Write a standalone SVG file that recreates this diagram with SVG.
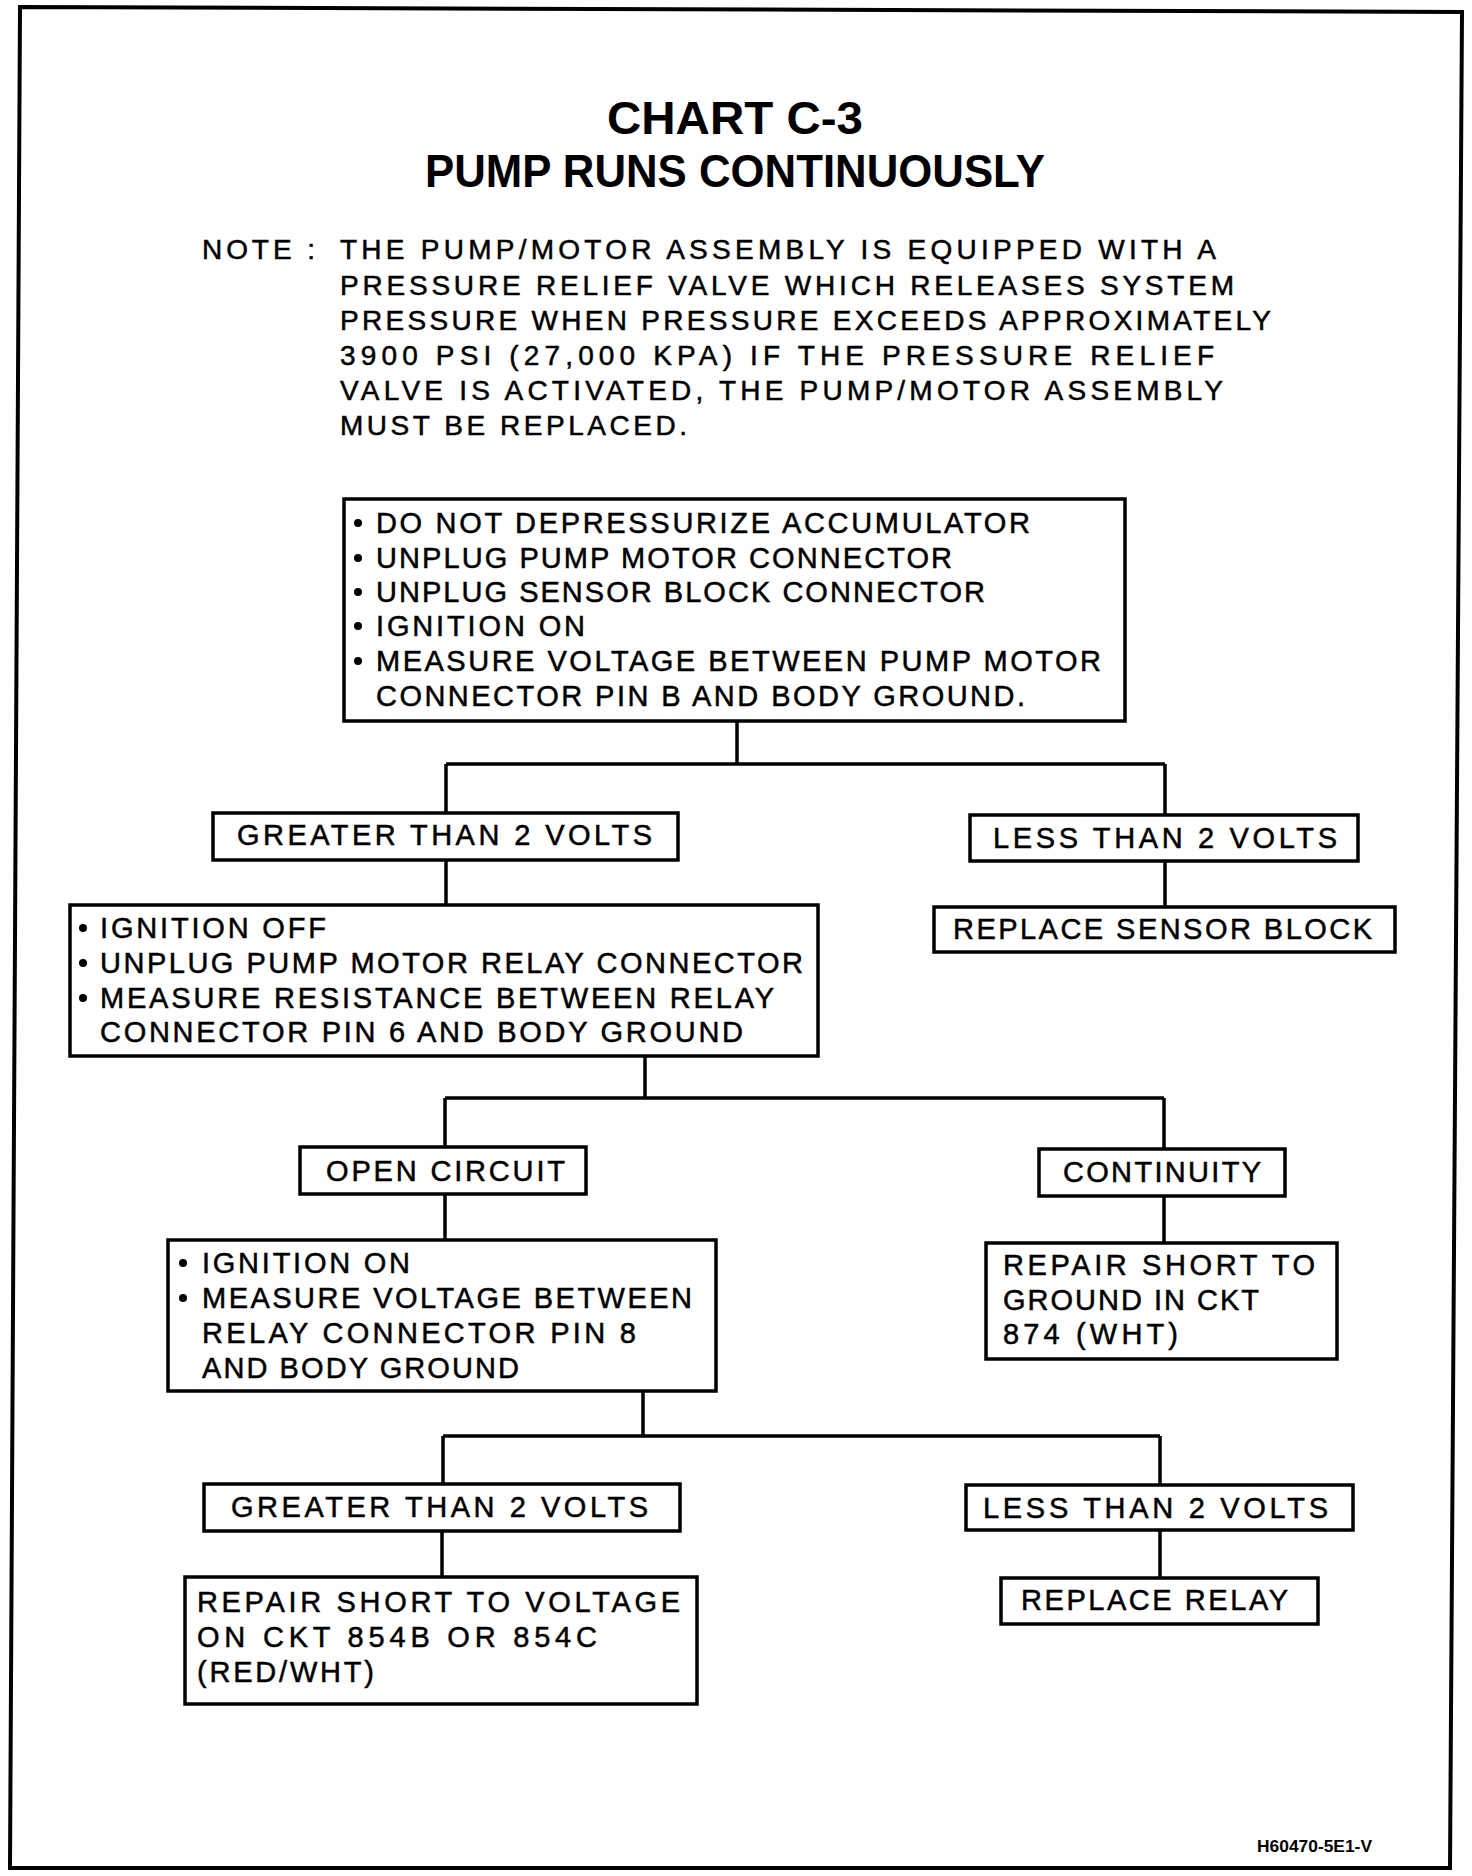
<svg xmlns="http://www.w3.org/2000/svg" width="1472" height="1876" viewBox="0 0 1472 1876">
<style>
.t{font-family:"Liberation Sans",Arial,sans-serif;font-size:29px;fill:#000;stroke:#000;stroke-width:0.5}
.n{font-size:28px}
.h{font-family:"Liberation Sans",Arial,sans-serif;font-weight:bold;font-size:46px;fill:#000}
.lb{font-family:"Liberation Sans",Arial,sans-serif;font-weight:bold;font-size:17px;fill:#000}
.b{fill:#fff;stroke:#000;stroke-width:3.5}
.c{fill:none;stroke:#000;stroke-width:3.5}
.d{fill:#000}
</style>
<rect width="1472" height="1876" fill="#fff"/>
<path id="frame" d="M20,7 L1462,12 L1450,1868 L10,1868 Z" fill="none" stroke="#000" stroke-width="4"/>

<g id="title">
<text class="h" x="607" y="134" textLength="256" lengthAdjust="spacingAndGlyphs">CHART C-3</text>
<text class="h" x="425" y="187" textLength="620" lengthAdjust="spacingAndGlyphs">PUMP RUNS CONTINUOUSLY</text>
</g>

<g id="note">
<text class="t n" x="202" y="259" textLength="113" lengthAdjust="spacing">NOTE :</text>
<text class="t n" x="340" y="259" textLength="876" lengthAdjust="spacing">THE PUMP/MOTOR ASSEMBLY IS EQUIPPED WITH A</text>
<text class="t n" x="340" y="295" textLength="894" lengthAdjust="spacing">PRESSURE RELIEF VALVE WHICH RELEASES SYSTEM</text>
<text class="t n" x="340" y="330" textLength="931" lengthAdjust="spacing">PRESSURE WHEN PRESSURE EXCEEDS APPROXIMATELY</text>
<text class="t n" x="340" y="365" textLength="874" lengthAdjust="spacing">3900 PSI (27,000 KPA) IF THE PRESSURE RELIEF</text>
<text class="t n" x="340" y="400" textLength="883" lengthAdjust="spacing">VALVE IS ACTIVATED, THE PUMP/MOTOR ASSEMBLY</text>
<text class="t n" x="340" y="435" textLength="347" lengthAdjust="spacing">MUST BE REPLACED.</text>
</g>

<g id="connectors">
<path class="c" d="M737,721 V764 M446,764 H1165 M446,764 V813 M1165,764 V815"/>
<path class="c" d="M446,860 V905"/>
<path class="c" d="M1165,861 V907"/>
<path class="c" d="M645,1056 V1098 M445,1098 H1164 M445,1098 V1147 M1164,1098 V1149"/>
<path class="c" d="M445,1194 V1240"/>
<path class="c" d="M1164,1196 V1243"/>
<path class="c" d="M643,1391 V1436 M443,1436 H1160 M443,1436 V1484 M1160,1436 V1485"/>
<path class="c" d="M442,1531 V1577"/>
<path class="c" d="M1160,1530 V1578"/>
</g>

<g id="box-start">
<rect class="b" x="344" y="499" width="781" height="222"/>
<circle class="d" cx="358" cy="523" r="4"/>
<circle class="d" cx="358" cy="558" r="4"/>
<circle class="d" cx="358" cy="592" r="4"/>
<circle class="d" cx="358" cy="626" r="4"/>
<circle class="d" cx="358" cy="661" r="4"/>
<text class="t" x="376" y="533" textLength="654" lengthAdjust="spacing">DO NOT DEPRESSURIZE ACCUMULATOR</text>
<text class="t" x="376" y="568" textLength="576" lengthAdjust="spacing">UNPLUG PUMP MOTOR CONNECTOR</text>
<text class="t" x="376" y="602" textLength="609" lengthAdjust="spacing">UNPLUG SENSOR BLOCK CONNECTOR</text>
<text class="t" x="376" y="636" textLength="209" lengthAdjust="spacing">IGNITION ON</text>
<text class="t" x="376" y="671" textLength="725" lengthAdjust="spacing">MEASURE VOLTAGE BETWEEN PUMP MOTOR</text>
<text class="t" x="376" y="706" textLength="649" lengthAdjust="spacing">CONNECTOR PIN B AND BODY GROUND.</text>
</g>

<g id="box-greater1">
<rect class="b" x="213" y="813" width="465" height="47"/>
<text class="t" x="237" y="845" textLength="415" lengthAdjust="spacing">GREATER THAN 2 VOLTS</text>
</g>

<g id="box-less1">
<rect class="b" x="970" y="815" width="388" height="46"/>
<text class="t" x="993" y="848" textLength="344" lengthAdjust="spacing">LESS THAN 2 VOLTS</text>
</g>

<g id="box-replace-sensor">
<rect class="b" x="934" y="907" width="461" height="45"/>
<text class="t" x="953" y="939" textLength="419" lengthAdjust="spacing">REPLACE SENSOR BLOCK</text>
</g>

<g id="box-ignition-off">
<rect class="b" x="70" y="905" width="748" height="151"/>
<circle class="d" cx="83" cy="928" r="4"/>
<circle class="d" cx="83" cy="963" r="4"/>
<circle class="d" cx="83" cy="998" r="4"/>
<text class="t" x="100" y="938" textLength="226" lengthAdjust="spacing">IGNITION OFF</text>
<text class="t" x="100" y="973" textLength="703" lengthAdjust="spacing">UNPLUG PUMP MOTOR RELAY CONNECTOR</text>
<text class="t" x="100" y="1008" textLength="674" lengthAdjust="spacing">MEASURE RESISTANCE BETWEEN RELAY</text>
<text class="t" x="100" y="1042" textLength="643" lengthAdjust="spacing">CONNECTOR PIN 6 AND BODY GROUND</text>
</g>

<g id="box-open">
<rect class="b" x="300" y="1147" width="286" height="47"/>
<text class="t" x="326" y="1181" textLength="239" lengthAdjust="spacing">OPEN CIRCUIT</text>
</g>

<g id="box-continuity">
<rect class="b" x="1039" y="1149" width="246" height="47"/>
<text class="t" x="1063" y="1182" textLength="198" lengthAdjust="spacing">CONTINUITY</text>
</g>

<g id="box-ignition-on">
<rect class="b" x="168" y="1240" width="548" height="151"/>
<circle class="d" cx="183" cy="1263" r="4"/>
<circle class="d" cx="183" cy="1298" r="4"/>
<text class="t" x="202" y="1273" textLength="208" lengthAdjust="spacing">IGNITION ON</text>
<text class="t" x="202" y="1308" textLength="490" lengthAdjust="spacing">MEASURE VOLTAGE BETWEEN</text>
<text class="t" x="202" y="1343" textLength="434" lengthAdjust="spacing">RELAY CONNECTOR PIN 8</text>
<text class="t" x="202" y="1378" textLength="317" lengthAdjust="spacing">AND BODY GROUND</text>
</g>

<g id="box-repair-ground">
<rect class="b" x="986" y="1243" width="351" height="116"/>
<text class="t" x="1003" y="1275" textLength="312" lengthAdjust="spacing">REPAIR SHORT TO</text>
<text class="t" x="1003" y="1310" textLength="256" lengthAdjust="spacing">GROUND IN CKT</text>
<text class="t" x="1003" y="1344" textLength="175" lengthAdjust="spacing">874 (WHT)</text>
</g>

<g id="box-greater2">
<rect class="b" x="204" y="1484" width="476" height="47"/>
<text class="t" x="231" y="1517" textLength="417" lengthAdjust="spacing">GREATER THAN 2 VOLTS</text>
</g>

<g id="box-less2">
<rect class="b" x="966" y="1485" width="387" height="45"/>
<text class="t" x="983" y="1518" textLength="345" lengthAdjust="spacing">LESS THAN 2 VOLTS</text>
</g>

<g id="box-repair-voltage">
<rect class="b" x="185" y="1577" width="512" height="127"/>
<text class="t" x="197" y="1612" textLength="483" lengthAdjust="spacing">REPAIR SHORT TO VOLTAGE</text>
<text class="t" x="197" y="1647" textLength="400" lengthAdjust="spacing">ON CKT 854B OR 854C</text>
<text class="t" x="197" y="1682" textLength="177" lengthAdjust="spacing">(RED/WHT)</text>
</g>

<g id="box-replace-relay">
<rect class="b" x="1001" y="1578" width="317" height="46"/>
<text class="t" x="1021" y="1610" textLength="267" lengthAdjust="spacing">REPLACE RELAY</text>
</g>

<text class="lb" x="1257" y="1852" textLength="115" lengthAdjust="spacingAndGlyphs">H60470-5E1-V</text>
</svg>
